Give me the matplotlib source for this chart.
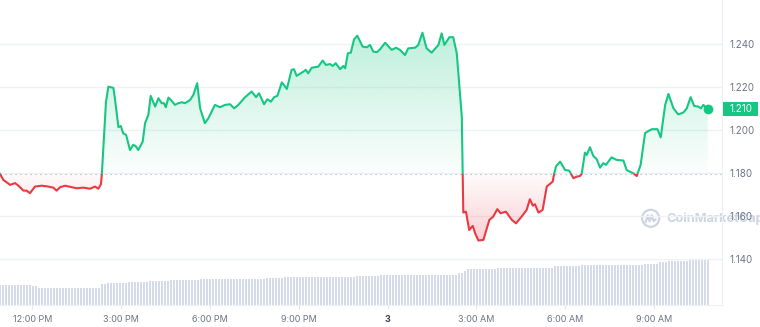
import numpy as np
import matplotlib
matplotlib.use("Agg")
import matplotlib.pyplot as plt
import matplotlib.colors as mcolors
import matplotlib.transforms as mtransforms
from matplotlib.path import Path
from matplotlib.patches import Rectangle, Circle
from matplotlib.lines import Line2D

plt.rcParams['font.family'] = ['Inter', 'DejaVu Sans']

# hours after 12:00 PM (day 2) and price in USD
hours = [
    -1.09, -0.98, -0.75, -0.58, -0.47, -0.30, -0.19, -0.08, 0.09, 0.32, 0.54, 0.71,
    0.82, 0.94, 1.11, 1.33, 1.50, 1.72, 1.95, 2.12, 2.23, 2.32, 2.35,
    2.49, 2.57, 2.74, 2.79, 2.91, 2.99, 3.07, 3.17, 3.30, 3.41, 3.49, 3.58,
    3.73, 3.81, 3.92, 4.00, 4.15, 4.26, 4.37, 4.45, 4.51, 4.60, 4.71, 4.82,
    4.93, 5.05, 5.16, 5.33,
    5.44, 5.57, 5.67, 5.83, 5.95, 6.17, 6.34, 6.51, 6.68, 6.82, 6.96, 7.19,
    7.41, 7.56, 7.66, 7.83, 7.94, 8.06, 8.17, 8.28, 8.43, 8.60, 8.76, 8.84,
    8.93, 9.16, 9.24, 9.32, 9.44, 9.66, 9.81, 9.92, 10.06, 10.15, 10.25, 10.40,
    10.51, 10.57, 10.66, 10.76, 10.87, 10.98, 11.16, 11.30, 11.41, 11.52, 11.64, 11.75,
    11.92, 12.14, 12.29, 12.42, 12.59, 12.70, 12.93, 13.04, 13.18, 13.32, 13.49, 13.72,
    13.83, 13.92, 14.09, 14.22, 14.34, 14.51, 14.54, 14.56, 14.65, 14.76, 14.88, 14.96,
    15.07, 15.24, 15.44, 15.57, 15.71, 15.82, 16.00, 16.20, 16.34, 16.53, 16.70, 16.81,
    16.91, 16.98, 17.10, 17.24, 17.38, 17.58, 17.63, 17.69, 17.83, 18.00, 18.14,
    18.28, 18.39, 18.50, 18.56, 18.67, 18.73, 18.84, 18.95, 19.07, 19.18, 19.29, 19.38,
    19.57, 19.74, 19.97, 20.08, 20.19, 20.30, 20.42, 20.55, 20.70, 20.78, 20.93, 21.12,
    21.23, 21.38, 21.49, 21.66, 21.82, 21.99, 22.11, 22.24, 22.36, 22.50, 22.59, 22.67,
    22.82,
]
price = [
    1.1797, 1.1769, 1.1746, 1.1754, 1.1742, 1.1719, 1.1719, 1.1707, 1.1738, 1.1742, 1.1738, 1.1733,
    1.1719, 1.1735, 1.1742, 1.1735, 1.1730, 1.1733, 1.1728, 1.1738, 1.1728, 1.1749, 1.1797,
    1.2133, 1.2203, 1.2197, 1.2149, 1.2014, 1.2020, 1.1986, 1.1978, 1.1908, 1.1932, 1.1927, 1.1908,
    1.1947, 1.2033, 1.2071, 1.2160, 1.2110, 1.2149, 1.2126, 1.2126, 1.2107, 1.2152, 1.2136, 1.2118,
    1.2126, 1.2130, 1.2126, 1.2141,
    1.2164, 1.2219, 1.2102, 1.2033, 1.2056, 1.2118, 1.2107, 1.2118, 1.2121, 1.2102, 1.2118, 1.2154,
    1.2180, 1.2154, 1.2172, 1.2121, 1.2144, 1.2133, 1.2154, 1.2160, 1.2223, 1.2192, 1.2281, 1.2284,
    1.2253, 1.2273, 1.2281, 1.2265, 1.2291, 1.2296, 1.2324, 1.2304, 1.2308, 1.2299, 1.2312, 1.2284,
    1.2299, 1.2288, 1.2358, 1.2361, 1.2423, 1.2440, 1.2389, 1.2386, 1.2397, 1.2366, 1.2363, 1.2377,
    1.2407, 1.2374, 1.2384, 1.2374, 1.2350, 1.2381, 1.2384, 1.2397, 1.2454, 1.2381, 1.2361, 1.2397,
    1.2451, 1.2397, 1.2433, 1.2433, 1.2358, 1.2063, 1.1797, 1.1617, 1.1621, 1.1536, 1.1555, 1.1521,
    1.1487, 1.1490, 1.1583, 1.1598, 1.1633, 1.1614, 1.1621, 1.1583, 1.1567, 1.1598, 1.1629, 1.1679,
    1.1649, 1.1656, 1.1617, 1.1629, 1.1738, 1.1761, 1.1797, 1.1831, 1.1854, 1.1815, 1.1812,
    1.1777, 1.1784, 1.1787, 1.1797, 1.1896, 1.1885, 1.1921, 1.1881, 1.1865, 1.1826, 1.1847, 1.1839,
    1.1874, 1.1862, 1.1859, 1.1815, 1.1807, 1.1800, 1.1787, 1.1839, 1.1986, 1.1994, 1.2005, 1.2005,
    1.1967, 1.2118, 1.2169, 1.2102, 1.2074, 1.2082, 1.2102, 1.2154, 1.2113, 1.2110, 1.2102, 1.2118,
    1.2098,
]
open_price = 1.1797

# volume bars (arbitrary units), one bar every ~6 minutes over the window
volume = [
    20.0, 20.0, 20.0, 20.0, 20.0, 20.0, 20.0, 20.0, 20.0, 20.0, 20.0, 19.0,
    19.0, 17.3, 17.3, 17.3, 17.3, 17.3, 17.3, 17.3, 17.3, 17.3, 17.3, 17.3,
    17.3, 17.3, 17.3, 17.3, 17.3, 17.3, 17.3, 17.3, 17.3, 17.3, 20.7, 20.7,
    21.7, 21.7, 21.7, 21.7, 21.7, 21.7, 21.7, 22.7, 22.7, 22.7, 22.7, 22.7,
    22.7, 22.7, 24.0, 24.0, 24.0, 24.0, 24.0, 24.0, 24.0, 24.7, 24.7, 24.7,
    24.7, 24.7, 24.7, 24.7, 24.7, 24.7, 24.7, 25.7, 25.7, 25.7, 25.7, 25.7,
    25.7, 25.7, 25.7, 25.7, 25.7, 25.7, 25.7, 25.7, 25.7, 25.7, 25.7, 25.7,
    25.7, 25.7, 25.7, 25.7, 25.7, 26.7, 26.7, 26.7, 26.7, 26.7, 26.7, 27.7,
    27.7, 27.7, 27.7, 27.7, 27.7, 27.7, 27.7, 27.7, 27.7, 27.7, 27.7, 27.7,
    27.7, 27.7, 27.7, 27.7, 28.3, 28.3, 28.3, 28.3, 28.3, 28.3, 28.3, 29.3,
    29.3, 29.3, 29.3, 29.3, 29.3, 29.3, 29.3, 29.7, 29.7, 29.7, 29.7, 29.7,
    29.7, 29.7, 29.7, 29.7, 30.5, 30.5, 30.5, 30.5, 30.5, 30.5, 30.5, 30.5,
    30.5, 30.5, 30.5, 30.5, 30.5, 30.5, 30.5, 30.5, 30.5, 32.3, 32.3, 34.0,
    35.7, 35.7, 35.7, 35.7, 36.3, 36.3, 36.3, 36.3, 36.3, 36.3, 37.3, 37.3,
    37.3, 37.3, 37.3, 37.3, 37.3, 37.3, 37.3, 37.3, 37.3, 37.3, 37.3, 37.3,
    37.3, 37.3, 37.3, 37.3, 37.3, 38.7, 38.7, 38.7, 38.7, 38.7, 38.7, 38.7,
    38.7, 38.7, 39.7, 39.7, 39.7, 39.7, 39.7, 39.7, 39.7, 39.7, 39.7, 39.7,
    39.7, 39.7, 39.7, 39.7, 39.7, 39.7, 39.7, 39.7, 39.7, 39.7, 39.7, 41.0,
    41.0, 41.0, 41.0, 41.0, 42.7, 42.7, 42.7, 43.7, 43.7, 43.7, 43.7, 43.7,
    43.7, 43.7, 45.0, 45.0, 45.0, 45.0, 45.0, 45.0, 45.0,
]

tick_hours = [0, 3, 6, 9, 12, 15, 18, 21]
tick_labels = ['12:00 PM', '3:00 PM', '6:00 PM', '9:00 PM', '3', '3:00 AM', '6:00 AM', '9:00 AM']
price_ticks = [1.14, 1.16, 1.18, 1.20, 1.22, 1.24]

GREEN = '#16c784'
RED = '#ea3943'
GRID = '#eff2f5'
TEXT = '#6b7385'

x = np.array(hours)
y = np.array(price)
xlim = (-1.091, 23.30)
ylim = (1.1187, 1.2606)

fig = plt.figure(figsize=(7.6, 3.27), dpi=100)
rect = [0, 22 / 327, 722 / 760, 305 / 327]

# volume in its own axes behind the price
axv = fig.add_axes(rect)
axv.patch.set_visible(False)
vx = np.linspace(x[0], x[-1], len(volume))
pitch = vx[1] - vx[0]
axv.bar(vx, volume, width=pitch * 0.62, color='#d6dbeb', linewidth=0)
axv.set_ylim(0, 305)
axv.set_xlim(*xlim)
axv.axis('off')

ax = fig.add_axes(rect)
ax.patch.set_visible(False)
ax.set_xlim(*xlim)
ax.set_ylim(*ylim)


def gradient_fill(where, color, y_lo, y_hi, a_lo, a_hi):
    poly = ax.fill_between(x, y, open_price, where=where, interpolate=True,
                           facecolor='none', linewidth=0)
    clip = Path.make_compound_path(*poly.get_paths())
    img = np.zeros((256, 1, 4))
    img[:, 0, :3] = mcolors.to_rgb(color)
    img[:, 0, 3] = np.linspace(a_lo, a_hi, 256)
    im = ax.imshow(img, extent=(x[0], x[-1], y_lo, y_hi), origin='lower',
                   aspect='auto', zorder=1, interpolation='bilinear')
    im.set_clip_path(clip, transform=ax.transData)


gradient_fill(y >= open_price, GREEN, open_price, 1.2500, 0.015, 0.30)
gradient_fill(y <= open_price, RED, 1.1450, open_price, 0.26, 0.02)
ax.set_xlim(*xlim)
ax.set_ylim(*ylim)

# line: green above the open price, red below
top_clip = Rectangle((xlim[0], open_price), xlim[1] - xlim[0], 1, transform=ax.transData)
bot_clip = Rectangle((xlim[0], open_price - 1), xlim[1] - xlim[0], 1, transform=ax.transData)
up, = ax.plot(x, y, color=GREEN, lw=1.5, zorder=3, solid_joinstyle='round')
up.set_clip_path(top_clip)
down, = ax.plot(x, y, color=RED, lw=1.5, zorder=3, solid_joinstyle='round')
down.set_clip_path(bot_clip)
ax.plot(x[-1], y[-1], 'o', color=GREEN, ms=6, zorder=4, clip_on=False)

ax.axhline(open_price, color='#a7b1c2', lw=0.8, ls=(0, (1, 3.5)), zorder=2)

# axes styling
ax.set_axisbelow(True)
ax.grid(axis='y', color=GRID, lw=1)
ax.yaxis.tick_right()
ax.set_yticks(price_ticks, [f'{t:.3f}' for t in price_ticks])
ax.tick_params(axis='y', length=0, pad=5.5, labelsize=7, labelcolor=TEXT)
ax.set_xticks(tick_hours, tick_labels)
ax.tick_params(axis='x', length=3, color='#e3e6ec', pad=4, labelsize=6.5, labelcolor=TEXT)
ax.get_xticklabels()[4].set_fontweight('bold')
ax.get_xticklabels()[4].set_color('#3a4150')
for side in ['top', 'left']:
    ax.spines[side].set_visible(False)
for side in ['right', 'bottom']:
    ax.spines[side].set_color('#eef0f4')
    ax.spines[side].set_linewidth(0.8)

# current price tag
trans = mtransforms.blended_transform_factory(ax.transAxes, ax.transData)
tag_h = 14.5 / 2150
ax.add_patch(Rectangle((1.0 + 1 / 722, y[-1] - tag_h / 2), 35 / 722, tag_h,
                       transform=trans, facecolor=GREEN, edgecolor='none', clip_on=False, zorder=5))
ax.text(1.0 + 18.5 / 722, y[-1], f'{y[-1]:.3f}', transform=trans, ha='center', va='center',
        color='white', fontsize=7, clip_on=False, zorder=6)

# watermark
wm_color = '#cdd4e3'
cx, cy = 650.7 / 100, (327 - 218.3) / 100
fig.add_artist(Circle((cx, cy), 0.085, transform=fig.dpi_scale_trans, fill=False,
                      edgecolor=wm_color, lw=1.6, zorder=-1))
zx = np.array([-0.05, -0.03, -0.01, 0.01, 0.03, 0.05])
zy = np.array([-0.04, 0.03, -0.03, 0.03, -0.03, -0.01])
fig.add_artist(Line2D(cx + zx, cy + zy, transform=fig.dpi_scale_trans, color=wm_color,
                      lw=1.6, zorder=-1, solid_joinstyle='round', solid_capstyle='round'))
fig.text(666 / 760, 1 - 218.3 / 327, 'CoinMarketCap', fontsize=9.2, fontweight='bold',
         color=wm_color, ha='left', va='center', zorder=-1)

fig.savefig('out.png', dpi=100, facecolor='white')
